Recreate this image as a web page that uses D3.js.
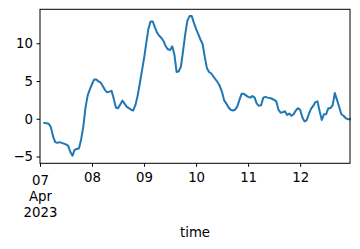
<!DOCTYPE html>
<html>
<head>
<meta charset="utf-8">
<script src="https://cdn.jsdelivr.net/npm/d3@7"></script>
<style>
html,body{margin:0;padding:0;background:#fff;}
svg{display:block;}
text{font-family:"DejaVu Sans",sans-serif;fill:#000;}
</style>
</head>
<body>
<svg id="chart" width="360" height="249"></svg>
<script>
// hours after 2023-04-07 00:00 UTC
const startHour = 2;
const values = [
 -0.55,-0.6,-0.65,-1.1,-2.3,-3.1,-3.2,-3.1,-3.2,-3.3,-3.4,-3.6,-4.4,-4.9,-4.1,-4.0,-3.9,-2.7,-1.0,1.5,
 3.1,3.9,4.6,5.2,5.2,4.95,4.8,4.3,3.8,3.5,3.6,3.7,2.7,1.5,1.4,1.9,2.4,2.0,1.6,1.4,
 1.2,1.1,1.8,3.0,4.6,6.3,8.0,10.0,11.9,12.9,12.9,12.1,11.4,11.0,10.7,10.3,9.6,9.2,9.1,9.6,
 8.5,6.2,6.3,6.9,9.0,11.2,13.0,13.6,13.6,12.7,11.9,11.2,10.5,9.9,8.2,6.7,6.2,6.0,5.6,5.2,
 4.8,4.3,3.5,2.4,2.0,1.5,1.2,1.1,1.2,1.6,2.5,3.3,3.3,3.1,2.9,2.8,3.0,2.8,2.0,1.7,
 1.8,2.8,2.9,2.8,2.75,2.65,2.5,2.3,1.2,0.8,0.85,1.0,0.5,0.7,0.4,0.6,1.1,1.4,1.2,0.2,
 -0.35,-0.2,0.6,1.3,1.7,2.2,2.3,1.0,-0.15,0.6,0.6,1.4,1.4,1.8,3.4,2.5,1.6,0.6,0.4,0.1,
 -0.05,-0.05
];
const yTicks = [-5, 0, 5, 10];
const xDomain = [Date.UTC(2023,3,7,0), Date.UTC(2023,3,12,23)];
const xTickDays = [7, 8, 9, 10, 11, 12];
const xTickLabels = [["07","Apr","2023"],["08"],["09"],["10"],["11"],["12"]];
const xLabel = "time";

const data = values.map((v,i)=>({t:new Date(Date.UTC(2023,3,7,startHour+i)), v}));

const svg = d3.select("#chart");
const L=40, R=350, T=9.3, B=163.3;
const x = d3.scaleUtc().domain(xDomain.map(d=>new Date(d))).range([L,R]);
const y = d3.scaleLinear().domain([-5.9,14.5]).range([B,T]);

// line
svg.append("path").datum(data)
  .attr("fill","none").attr("stroke","#1f77b4").attr("stroke-width",2)
  .attr("stroke-linejoin","round").attr("stroke-linecap","square")
  .attr("d", d3.line().x(d=>x(d.t)).y(d=>y(d.v)));

// frame
svg.append("rect").attr("x",L).attr("y",T).attr("width",R-L).attr("height",B-T)
  .attr("fill","none").attr("stroke","#000").attr("stroke-width",1);

// y axis
const yAxis = svg.append("g").attr("transform",`translate(${L},0)`)
  .call(d3.axisLeft(y).tickValues(yTicks).tickSize(3.5).tickPadding(3.5)
        .tickFormat(d=> d<0 ? "\u2212"+Math.abs(d) : String(d)));
yAxis.select(".domain").remove();
yAxis.selectAll("text").attr("font-size","13.3px").attr("font-family","DejaVu Sans").attr("fill","#000");
yAxis.selectAll("line").attr("stroke","#000");

// x axis
const xTickDates = xTickDays.map(d=>new Date(Date.UTC(2023,3,d)));
const xAxis = svg.append("g").attr("transform",`translate(0,${B})`)
  .call(d3.axisBottom(x).tickValues(xTickDates).tickSize(3.5).tickFormat(""));
xAxis.select(".domain").remove();
xAxis.selectAll("line").attr("stroke","#000");
xAxis.selectAll(".tick").each(function(d,i){
  const g = d3.select(this);
  const lines = xTickLabels[i];
  const t = g.append("text").attr("text-anchor","middle").attr("font-size","13.3px")
    .attr("fill","#000");
  lines.forEach((s,j)=>{
    t.append("tspan").attr("x",0).attr("y", (lines.length>1?21.7:19) + j*15.8).text(s);
  });
});

svg.append("text").attr("x",(L+R)/2).attr("y",236.5).attr("text-anchor","middle")
  .attr("font-size","13.3px").text(xLabel);
</script>
</body>
</html>
